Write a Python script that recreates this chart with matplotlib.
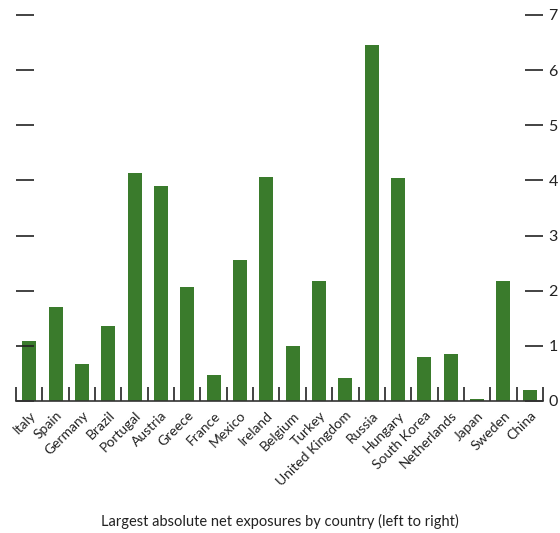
import numpy as np
import matplotlib.pyplot as plt

# Datos
paises = ['Italy', 'Spain', 'Germany', 'Brazil', 'Portugal', 'Austria', 'Greece',
          'France', 'Mexico', 'Ireland', 'Belgium', 'Turkey', 'United Kingdom',
          'Russia', 'Hungary', 'South Korea', 'Netherlands', 'Japan', 'Sweden', 'China']
valores = [1.09, 1.71, 0.67, 1.36, 4.14, 3.90, 2.07, 0.47, 2.56, 4.07,
           1.00, 2.18, 0.42, 6.46, 4.05, 0.80, 0.85, 0.03, 2.18, 0.20]
yticks = [0, 1, 2, 3, 4, 5, 6, 7]

plt.rcParams['font.family'] = ['Lato', 'DejaVu Sans']

fig = plt.figure(figsize=(5.6, 5.33), dpi=100)
ax = fig.add_axes([0.0286, 0.2477, 0.941, 0.7242])

x = np.arange(len(paises))
ax.bar(x, valores, width=0.53, color='#3a7b2c')
ax.set_xlim(-0.5, len(paises) - 0.5)
ax.set_ylim(0, 7)

for s in ['left', 'right', 'top']:
    ax.spines[s].set_visible(False)
ax.spines['bottom'].set_color('#333333')
ax.spines['bottom'].set_linewidth(1.2)

# eje y: marcas a ambos lados, etiquetas solo a la derecha
ax.set_yticks(yticks)
ax.tick_params(axis='y', direction='in', length=13, width=1.2, color='#222222',
               left=True, right=True, labelleft=False, labelright=True,
               labelsize=11.5, pad=4, labelcolor='#222222')

# eje x: separadores entre categorías
ax.set_xticks(np.arange(len(paises) + 1) - 0.5, minor=True)
ax.set_xticks(x)
ax.set_xticklabels(paises, rotation=45, ha='right', rotation_mode='anchor',
                   fontsize=10, color='#222222')
ax.tick_params(axis='x', which='major', length=0, pad=6)
ax.tick_params(axis='x', which='minor', direction='in', length=10, width=1.2, color='#222222')

fig.text(0.5, 0.008, 'Largest absolute net exposures by country (left to right)',
         ha='center', va='bottom', fontsize=10.5, color='#222222')

fig.savefig('out.png', dpi=100)
